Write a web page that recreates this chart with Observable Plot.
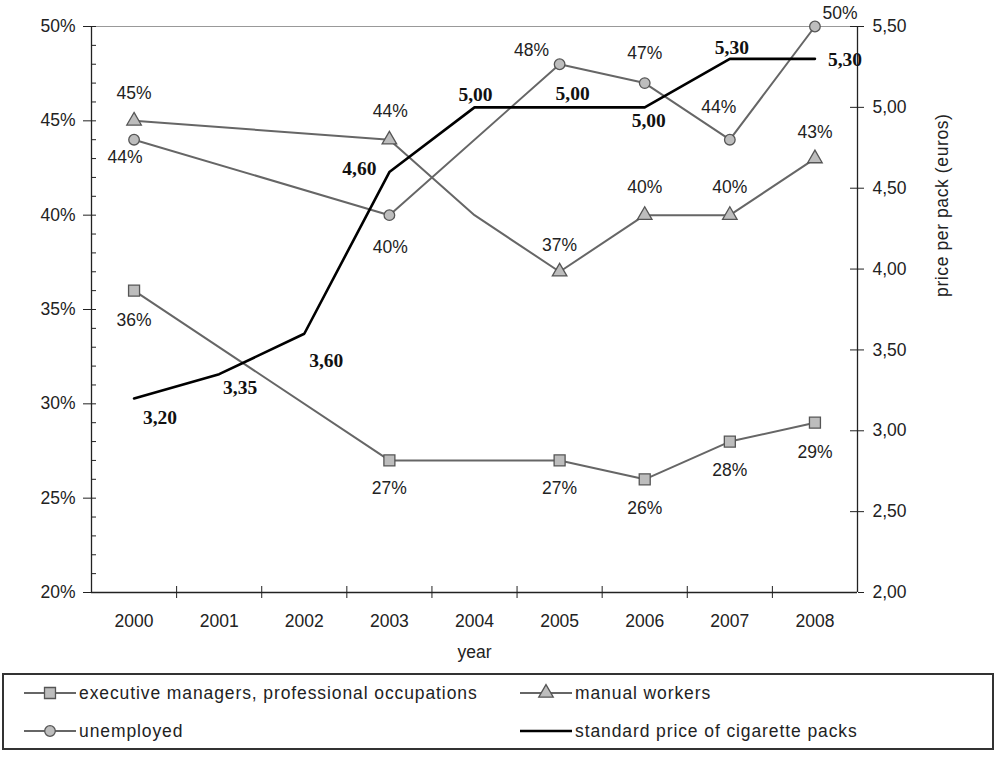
<!DOCTYPE html>
<html><head><meta charset="utf-8">
<script src="https://cdn.jsdelivr.net/npm/d3@7"></script>
<script src="https://cdn.jsdelivr.net/npm/@observablehq/plot@0.6"></script>
<style>
html,body{margin:0;padding:0;background:#fff;}
#wrap{position:relative;width:1000px;height:762px;font-family:"Liberation Sans",Arial,sans-serif;color:#222;}
#legend{position:absolute;left:2px;top:673px;width:992px;height:77px;box-sizing:border-box;border:2px solid #333;font-size:17.5px;letter-spacing:0.9px;}
.item{position:absolute;display:flex;align-items:center;white-space:nowrap;}
.item svg{display:block;margin-right:3px;}
</style></head>
<body><div id="wrap"><div id="chart"></div><div id="legend"></div></div>
<script>
// ---- data ----
const years = [2000, 2001, 2002, 2003, 2004, 2005, 2006, 2007, 2008];
const execValues = [36, null, null, 27, null, 27, 26, 28, 29];
const manualValues = [45, null, null, 44, 40, 37, 40, 40, 43];
const unemployedValues = [44, null, null, 40, null, 48, 47, 44, 50];
const priceValues = [3.20, 3.35, 3.60, 4.60, 5.00, 5.00, 5.00, 5.30, 5.30];
const markerYears = [2000, 2003, 2005, 2006, 2007, 2008];
const pctTicks = [20, 25, 30, 35, 40, 45, 50];
const pctMinorTicks = d3.range(20, 51, 1);
const priceTicks = [2.00, 2.50, 3.00, 3.50, 4.00, 4.50, 5.00, 5.50];
const yearBoundaries = [2000.5, 2001.5, 2002.5, 2003.5, 2004.5, 2005.5, 2006.5, 2007.5];
const seriesNames = ["executive managers, professional occupations", "manual workers", "unemployed", "standard price of cigarette packs"];

// ---- label placement (pixel offsets, by markerYears / years order) ----
const execLabelOffsets = [[0,30],[0,28],[0,28],[0,29],[0,29],[0,30]];
const manualLabelOffsets = [[0,-27.5],[1,-28],[0,-26],[0,-28],[0,-28],[0,-26]];
const unempLabelOffsets = [[-9,18],[1,32],[-28,-14],[0,-30],[-11,-32],[25,-13]];
const priceLabelOffsets = [[26,19],[21,14],[22,27],[-30,-3],[1,-13],[13,-14],[4,13],[2,-11],[30,1]];

// ---- helpers ----
const toPct = p => 20 + (p - 2) * 30 / 3.5;
const fromPct = v => 2 + (v - 20) * 3.5 / 30;
const fmtPrice = p => p.toFixed(2).replace(".", ",");
const W = 1000, H = 665, mL = 91, mR = 143, mT = 26, mB = 73;
const frameW = W - mL - mR, frameH = H - mT - mB;

const mk = vals => years.map((y, i) => ({year: y, v: vals[i]})).filter(d => d.v != null);
const execData = mk(execValues), manualData = mk(manualValues), unempData = mk(unemployedValues);
const priceData = years.map((y, i) => ({year: y, v: toPct(priceValues[i]), p: priceValues[i]}));

const lineColor = "#666", markFill = "#bdbdbd", markStroke = "#555";
const rSquare = 6.2, rTriangle = 5.4, rCircle = 5.3;

function labelMarks(data, offsets, fmt, extra) {
  return data.map((d, i) => Plot.text([d], {x: "year", y: "v", text: fmt, dx: offsets[i][0], dy: offsets[i][1], ...extra}));
}
const pctFont = {fontSize: 17.5, fill: "#222", fontFamily: "Liberation Sans, Arial, sans-serif"};
const priceFont = {fontSize: 19.5, fontWeight: "bold", fill: "#111", fontFamily: "Liberation Serif, Times New Roman, serif"};

const execM = execData.filter(d => markerYears.includes(d.year));
const manualM = manualData.filter(d => markerYears.includes(d.year));
const unempM = unempData.filter(d => markerYears.includes(d.year));

const chart = Plot.plot({
  width: W, height: H,
  marginLeft: mL, marginRight: mR, marginTop: mT, marginBottom: mB,
  style: {fontFamily: "Liberation Sans, Arial, sans-serif", fontSize: "17.5px", color: "#222", background: "#fff", overflow: "visible"},
  x: {domain: [1999.5, 2008.5], axis: null},
  y: {domain: [20, 50], axis: null},
  marks: [
    Plot.ruleY([50], {stroke: "#999", strokeWidth: 1}),
    // left axis
    Plot.axisY(pctTicks, {anchor: "left", tickSize: 8, tickPadding: 8, tickFormat: d => d + "%", label: null, stroke: "#222", fill: "#222"}),
    Plot.tickY(pctMinorTicks, {insetRight: frameW - 5, stroke: "#222"}),
    // right axis
    Plot.axisY(priceTicks.map(toPct), {anchor: "right", tickSize: 6, tickPadding: 9, tickFormat: v => fmtPrice(fromPct(v)), label: null, stroke: "#222", fill: "#222"}),
    Plot.tickY(priceTicks.map(toPct), {insetLeft: frameW - 7, stroke: "#222"}),
    // bottom axis
    Plot.axisX(years, {anchor: "bottom", tickSize: 0, tickPadding: 22, tickFormat: d => String(d), label: null, fill: "#222"}),
    Plot.tickX(yearBoundaries, {insetTop: frameH - 6, insetBottom: -6, stroke: "#222"}),
    Plot.ruleX([1999.5], {stroke: "#222", strokeWidth: 1.3}),
    Plot.ruleX([2008.5], {stroke: "#222", strokeWidth: 1.3}),
    Plot.ruleY([20], {stroke: "#222", strokeWidth: 1.3}),
    Plot.text(["year"], {frameAnchor: "bottom", dy: 65, fontSize: 17.5, fill: "#222"}),
    Plot.text(["price per pack (euros)"], {frameAnchor: "right", dx: 85, dy: -196, rotate: -90, fontSize: 17.5, fill: "#222"}),
    // series lines
    Plot.line(execData, {x: "year", y: "v", stroke: lineColor, strokeWidth: 2}),
    Plot.line(manualData, {x: "year", y: "v", stroke: lineColor, strokeWidth: 2}),
    Plot.line(unempData, {x: "year", y: "v", stroke: lineColor, strokeWidth: 2}),
    Plot.line(priceData, {x: "year", y: "v", stroke: "#000", strokeWidth: 2.6}),
    // markers
    Plot.dot(execM, {x: "year", y: "v", symbol: "square", r: rSquare, fill: markFill, stroke: markStroke, strokeWidth: 1.3}),
    Plot.dot(manualM, {x: "year", y: "v", symbol: "triangle", r: rTriangle, fill: markFill, stroke: markStroke, strokeWidth: 1.3}),
    Plot.dot(unempM, {x: "year", y: "v", symbol: "circle", r: rCircle, fill: markFill, stroke: markStroke, strokeWidth: 1.3}),
    // labels
    ...labelMarks(execM, execLabelOffsets, d => d.v + "%", pctFont),
    ...labelMarks(manualM, manualLabelOffsets, d => d.v + "%", pctFont),
    ...labelMarks(unempM, unempLabelOffsets, d => d.v + "%", pctFont),
    ...labelMarks(priceData, priceLabelOffsets, d => fmtPrice(d.p), priceFont)
  ]
});
document.getElementById("chart").appendChild(chart);
d3.select(chart).selectAll("text").filter(function() { return this.textContent === "price per pack (euros)"; })
  .style("letter-spacing", "0.6px");

// ---- legend ----
const legend = d3.select("#legend");
const legendItems = [
  {name: seriesNames[0], symbol: "square", left: 20, top: 18, lw: 52},
  {name: seriesNames[1], symbol: "triangle", left: 516, top: 18, lw: 52},
  {name: seriesNames[2], symbol: "circle", left: 20, top: 56, lw: 52},
  {name: seriesNames[3], symbol: null, left: 516, top: 56, lw: 52}
];
const symMap = {square: d3.symbolSquare, triangle: d3.symbolTriangle, circle: d3.symbolCircle};
const symSize = {square: Math.PI * rSquare * rSquare, triangle: Math.PI * rTriangle * rTriangle, circle: Math.PI * rCircle * rCircle};
for (const it of legendItems) {
  const div = legend.append("div").attr("class", "item").style("left", it.left + "px").style("top", (it.top - 11) + "px");
  const s = div.append("svg").attr("width", it.lw).attr("height", 22);
  s.append("line").attr("x1", 0).attr("x2", it.lw).attr("y1", 11).attr("y2", 11)
    .attr("stroke", it.symbol ? lineColor : "#000").attr("stroke-width", it.symbol ? 2 : 2.6);
  if (it.symbol) {
    s.append("path").attr("d", d3.symbol(symMap[it.symbol], symSize[it.symbol])())
      .attr("transform", `translate(${it.lw / 2},11)`).attr("fill", markFill).attr("stroke", markStroke).attr("stroke-width", 1.3);
  }
  div.append("span").text(it.name);
}
</script>
</body></html>
